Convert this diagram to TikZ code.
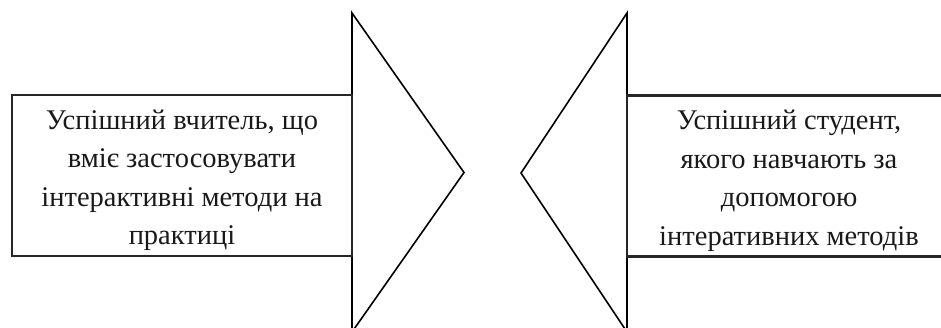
\documentclass[tikz,border=0pt]{standalone}
\usepackage{fontspec}
\setmainfont{LiberationSerif-Regular.ttf}
\tikzset{
  boxshape/.style={draw=black!85, line width=2.2pt, minimum width=#1, minimum height=161pt, inner sep=0pt},
  headshape/.style={draw=black, line width=1.6pt, line join=miter},
  txt/.style={align=center, inner sep=0pt, font=\fontsize{28.5}{38.5}\selectfont, text=black!90}
}
\begin{document}
\begin{tikzpicture}[x=1pt,y=-1pt]
\useasboundingbox (0,0) rectangle (941,328);
\clip (0,0) rectangle (941,328);
% left arrow
\coordinate (lt) at (352,13);
\coordinate (lb) at (352,332);
\coordinate (ltip) at (464,172.5);
\draw[headshape] (lt) -- (ltip) -- (lb) -- cycle;
\node[boxshape=340pt] (lbox) at (182,175.5) {};
\node[txt] (ltext) at (182,180.5) {Успішний вчитель, що\\вміє застосовувати\\інтерактивні методи на\\практиці};
% right arrow
\coordinate (rt) at (627,13);
\coordinate (rb) at (627,332);
\coordinate (rtip) at (521,173);
\draw[headshape] (rt) -- (rtip) -- (rb) -- cycle;
\node[boxshape=326pt] (rbox) at (790,176) {};
\node[txt] (rtext) at (789,181) {Успішний студент,\\якого навчають за\\допомогою\\інтеративних методів};
\end{tikzpicture}
\end{document}
